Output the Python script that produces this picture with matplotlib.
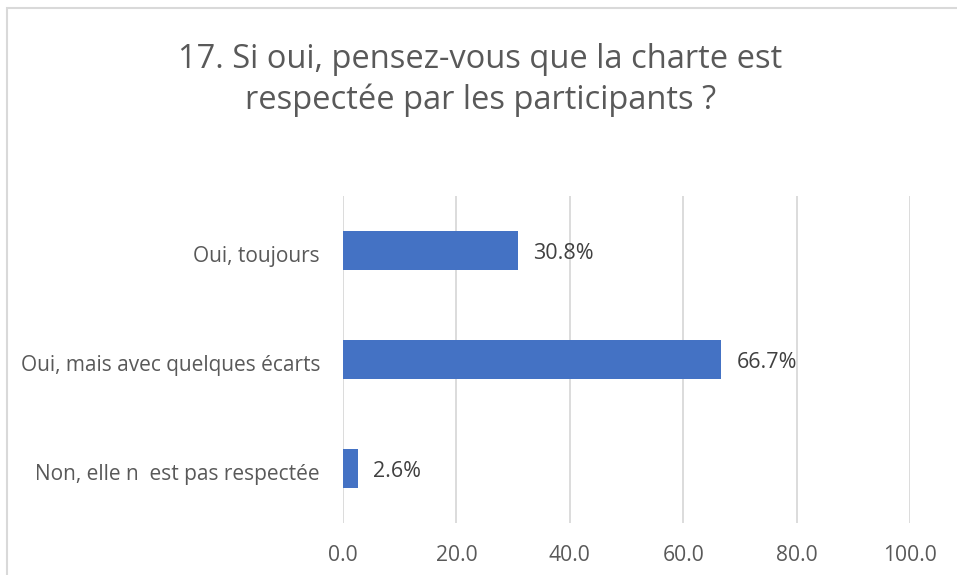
import matplotlib.pyplot as plt
import matplotlib.transforms as mtrans
from matplotlib.patches import Rectangle

# survey answers, top to bottom as in the chart
categories = ['Oui, toujours', 'Oui, mais avec quelques écarts', 'Non, elle n  est pas respectée']
values = [30.8, 66.7, 2.6]
ticks = [0, 20, 40, 60, 80, 100]

plt.rcParams['font.family'] = ['Open Sans', 'DejaVu Sans']
txt = '#595959'

fig = plt.figure(figsize=(9.57, 5.75), dpi=100)
ax = fig.add_axes([0.3584, 0.0904, 0.5925, 0.5686])

pos = list(range(len(categories)))
ax.barh(pos, values, height=0.36, color='#4472C4', zorder=3)
ax.set_ylim(len(categories) - 0.5, -0.5)
ax.set_xlim(0, 100)
ax.set_yticks(pos)
ax.set_yticklabels(categories, fontsize=15, color=txt)
ax.set_xticks(ticks)
ax.set_xticklabels([f'{t:.1f}' for t in ticks], fontsize=15.2, color=txt)
ax.tick_params(axis='both', length=0)
ax.tick_params(axis='y', pad=16.5)
ax.tick_params(axis='x', pad=16)
ax.grid(axis='x', color='#D9D9D9', linewidth=1.3, zorder=0)
for s in ax.spines.values():
    s.set_visible(False)

# category labels sit a touch lower than the bar centre, like in Excel
shift = mtrans.ScaledTranslation(0, -0.035, fig.dpi_scale_trans)
for lab in ax.get_yticklabels():
    lab.set_transform(lab.get_transform() + shift)

for p, v in zip(pos, values):
    ax.annotate(f'{v}%', (v, p), xytext=(11, -2), textcoords='offset points',
                va='center', ha='left', fontsize=15.5, color='#404040')

fig.text(0.502, 0.861, '17. Si oui, pensez-vous que la charte est\nrespectée par les participants ?',
         ha='center', va='center', fontsize=23.5, color=txt, linespacing=1.3)

# chart border, partly cut off on the right and bottom
fig.patches.append(Rectangle((7 / 957, -0.1), 1.2, 1.1 - 8 / 575, transform=fig.transFigure,
                             fill=False, edgecolor='#D9D9D9', linewidth=1.5))

fig.savefig('out.png', dpi=100)
